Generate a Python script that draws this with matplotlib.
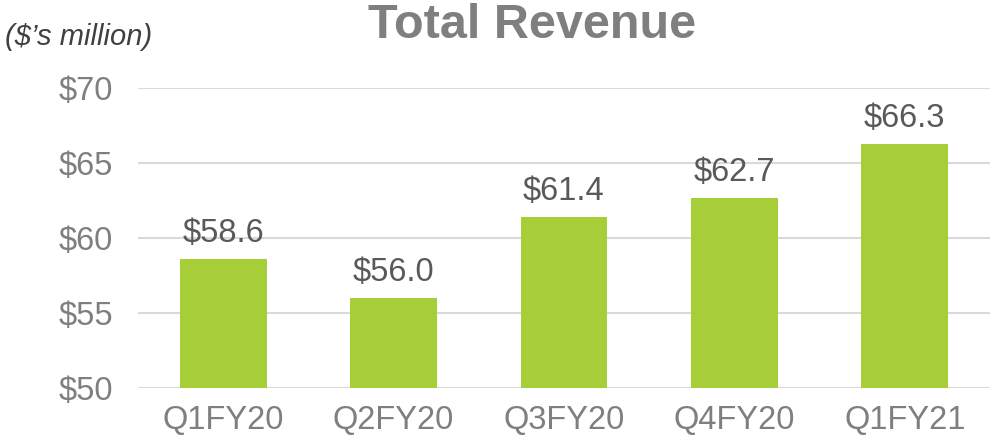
import matplotlib
matplotlib.use('Agg')
import matplotlib.pyplot as plt

quarters = ["Q1FY20", "Q2FY20", "Q3FY20", "Q4FY20", "Q1FY21"]
revenue = [58.6, 56.0, 61.4, 62.7, 66.3]
y_ticks = [50, 55, 60, 65, 70]

plt.rcParams['font.family'] = ['Liberation Sans', 'DejaVu Sans']

fig = plt.figure(figsize=(9.97, 4.4), dpi=100)
ax = fig.add_axes([138 / 997, 1 - 388 / 440, (990 - 138) / 997, 300 / 440])

x = range(len(quarters))
bars = ax.bar(x, revenue, width=0.51, color="#A6CE39", zorder=3)

for rect, val in zip(bars, revenue):
    ax.annotate("${:.1f}".format(val), (rect.get_x() + rect.get_width() / 2, val),
                xytext=(0, 7), textcoords="offset points", ha="center", va="bottom",
                fontsize=23.5, color="#595959")

ax.set_ylim(50, 70)
ax.set_xlim(-0.5, len(quarters) - 0.5)
ax.set_yticks(y_ticks)
ax.set_yticklabels(["${}".format(v) for v in y_ticks])
ax.set_xticks(list(x))
ax.set_xticklabels(quarters)
ax.tick_params(axis="both", length=0, labelsize=23.5, labelcolor="#7F7F7F")
ax.tick_params(axis="y", pad=18)
ax.tick_params(axis="x", pad=12)
ax.grid(axis="y", color="#D9D9D9", linewidth=1.5, zorder=0)
for side in ax.spines.values():
    side.set_visible(False)

fig.text(532 / 997, 1 - 26 / 440, "Total Revenue", ha="center", va="center",
         fontsize=35, fontweight="bold", color="#7F7F7F")
fig.text(5 / 997, 1 - 37 / 440, "($\u2019s million)", ha="left", va="center",
         fontsize=21, style="italic", color="#404040")

plt.savefig("out.png", dpi=100)
